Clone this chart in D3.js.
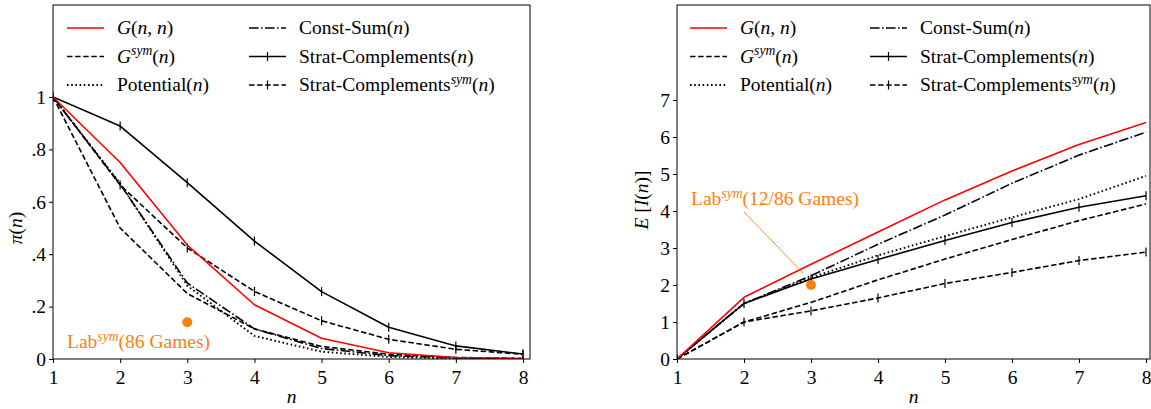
<!DOCTYPE html>
<html><head><meta charset="utf-8">
<script src="https://cdn.jsdelivr.net/npm/d3@7"></script>
<style>
body{margin:0;background:#fff;}
svg{display:block;font-family:"Liberation Serif","DejaVu Serif",serif;}
</style></head>
<body><svg id="c" width="1151" height="409"></svg>
<script>
// ---------- data ----------
const nValues = [1,2,3,4,5,6,7,8];
// left panel: pi(n)
const piG        = [1,0.75,0.435,0.207,0.079,0.024,0.006,0.001];
const piGsym     = [1,0.5,0.25,0.115,0.048,0.018,0.006,0.002];
const piPot      = [1,0.67,0.28,0.088,0.028,0.008,0.002,0.0005];
const piConst    = [1,0.667,0.29,0.115,0.04,0.013,0.004,0.001];
const piStrat    = [1,0.889,0.673,0.45,0.257,0.121,0.05,0.019];
const piStratSym = [1,0.664,0.424,0.258,0.146,0.075,0.037,0.018];
const piLab = {n:3, v:0.14};
// right panel: E[I(n)]
const eG        = [0,1.667,2.56,3.43,4.3,5.08,5.8,6.39];
const eGsym     = [0,1.0,1.53,2.14,2.7,3.23,3.74,4.19];
const ePot      = [0,1.5,2.2,2.8,3.32,3.83,4.32,4.95];
const eConst    = [0,1.5,2.25,3.1,3.89,4.75,5.51,6.13];
const eStrat    = [0,1.5,2.16,2.69,3.2,3.69,4.1,4.41];
const eStratSym = [0,1.0,1.3,1.65,2.04,2.34,2.66,2.89];
const eLab = {n:3, v:2.0};
const leftYTicks  = [0,0.2,0.4,0.6,0.8,1];
const leftYLabels = ["0",".2",".4",".6",".8","1"];
const rightYTicks = [0,1,2,3,4,5,6,7];
const xTicks = [1,2,3,4,5,6,7,8];

// series styles (name -> label segments)
const seriesDefs = [
  {key:"G",        color:"red",  dash:null,             w:1.6, tick:false, label:[{t:"G",i:1},{t:"("},{t:"n",i:1},{t:", "},{t:"n",i:1},{t:")"}]},
  {key:"Gsym",     color:"#000", dash:"5.5,2.6",        w:1.6, tick:false, label:[{t:"G",i:1},{t:"sym",i:1,s:1},{t:"("},{t:"n",i:1},{t:")"}]},
  {key:"Pot",      color:"#000", dash:"1.6,2.6",        w:1.9, tick:false, label:[{t:"Potential("},{t:"n",i:1},{t:")"}]},
  {key:"Const",    color:"#000", dash:"9.6,2.4,1.6,2.4",w:1.6, tick:false, label:[{t:"Const-Sum("},{t:"n",i:1},{t:")"}]},
  {key:"Strat",    color:"#000", dash:null,             w:1.6, tick:true,  label:[{t:"Strat-Complements("},{t:"n",i:1},{t:")"}]},
  {key:"StratSym", color:"#000", dash:"5.5,2.6",        w:1.6, tick:true,  label:[{t:"Strat-Complements"},{t:"sym",i:1,s:1},{t:"("},{t:"n",i:1},{t:")"}]}
];
const leftData  = {G:piG,Gsym:piGsym,Pot:piPot,Const:piConst,Strat:piStrat,StratSym:piStratSym};
const rightData = {G:eG,Gsym:eGsym,Pot:ePot,Const:eConst,Strat:eStrat,StratSym:eStratSym};
const orange = "#ff7f0e";
const FS = 19.5;

const svg = d3.select("#c");

function richText(sel, segs, size){
  segs.forEach((s,k)=>{
    const ts = sel.append("tspan").text(s.t);
    if(s.i) ts.attr("font-style","italic");
    if(s.s){ ts.attr("font-size", size*0.7).attr("dy", -size*0.38); }
    else if(k>0 && segs[k-1].s){ ts.attr("dy", size*0.38); }
  });
  return sel;
}

function panel(cfg){
  const x = d3.scaleLinear().domain([1,8]).range([cfg.x0,cfg.x8]);
  const y = d3.scaleLinear().domain(cfg.ydom).range(cfg.yrange);
  const g = svg.append("g");
  const top = cfg.top, bottom = y(0);
  const line = d3.line().x((d,i)=>x(nValues[i])).y(d=>y(d));
  const clipId = "clip"+cfg.id;
  g.append("clipPath").attr("id",clipId).append("rect")
    .attr("x",cfg.x0).attr("y",top).attr("width",cfg.right-cfg.x0).attr("height",bottom-top);
  const plot = g.append("g").attr("clip-path",`url(#${clipId})`);
  const order = ["Gsym","Pot","Const","Strat","StratSym","G"];
  order.forEach(k=>{
    const sd = seriesDefs.find(s=>s.key===k);
    const vals = cfg.data[k];
    plot.append("path").datum(vals).attr("d",line)
      .attr("fill","none").attr("stroke",sd.color).attr("stroke-width",sd.w)
      .attr("stroke-dasharray",sd.dash).attr("stroke-linejoin","round");
    if(sd.tick){
      plot.selectAll(null).data(vals).enter().append("line")
        .attr("x1",(d,i)=>x(nValues[i])).attr("x2",(d,i)=>x(nValues[i]))
        .attr("y1",d=>y(d)-4.5).attr("y2",d=>y(d)+4.5)
        .attr("stroke","#000").attr("stroke-width",1.2);
    }
  });
  g.append("circle").attr("cx",x(cfg.lab.n)).attr("cy",y(cfg.lab.v)).attr("r",5).attr("fill",orange);
  g.append("rect").attr("x",cfg.x0).attr("y",top).attr("width",cfg.right-cfg.x0).attr("height",bottom-top)
    .attr("fill","none").attr("stroke","#000").attr("stroke-width",1);
  const xa = g.append("g").attr("transform",`translate(0,${bottom})`)
    .call(d3.axisBottom(x).tickValues(xTicks).tickSize(4).tickSizeOuter(0).tickFormat(d3.format("d")));
  xa.select(".domain").remove();
  xa.selectAll("text").attr("font-size",FS).attr("font-family","Liberation Serif").attr("fill","#000").attr("dy","0.9em");
  const ya = g.append("g").attr("transform",`translate(${cfg.x0},0)`)
    .call(d3.axisLeft(y).tickValues(cfg.yticks).tickSize(4).tickSizeOuter(0).tickFormat((d,i)=>cfg.ylabels[i]));
  ya.select(".domain").remove();
  ya.selectAll("text").attr("font-size",FS).attr("font-family","Liberation Serif").attr("fill","#000").attr("x",-7);
  g.append("text").attr("x",(cfg.x0+cfg.right)/2).attr("y",cfg.xlabY).attr("text-anchor","middle")
    .attr("font-size",FS).attr("font-style","italic").text("n");
  const yl = g.append("text").attr("transform",`translate(${cfg.ylabX},${cfg.ylabCY}) rotate(-90)`)
    .attr("text-anchor","middle").attr("font-size",FS);
  richText(yl, cfg.ylab, FS);
  const cols = [[0,1,2],[3,4,5]];
  cols.forEach((col,ci)=>{
    col.forEach((si,ri)=>{
      const sd = seriesDefs[si];
      const ly = cfg.legY + ri*28.5;
      const lx = cfg.legX[ci];
      g.append("line").attr("x1",lx).attr("x2",lx+37).attr("y1",ly).attr("y2",ly)
        .attr("stroke",sd.color).attr("stroke-width",sd.w).attr("stroke-dasharray",sd.dash);
      if(sd.tick){
        g.append("line").attr("x1",lx+18.5).attr("x2",lx+18.5).attr("y1",ly-4.5).attr("y2",ly+4.5)
          .attr("stroke","#000").attr("stroke-width",1.2);
      }
      const t = g.append("text").attr("x",lx+50).attr("y",ly+6).attr("font-size",FS);
      richText(t, sd.label, FS);
    });
  });
  return {g,x,y};
}

const L = panel({id:"L", x0:53, x8:523, right:530, top:5, ydom:[0,1], yrange:[359,97],
  data:leftData, lab:piLab, yticks:leftYTicks, ylabels:leftYLabels,
  xlabY:403, ylabX:22, ylabCY:228,
  ylab:[{t:"π",i:1},{t:"("},{t:"n",i:1},{t:")"}],
  legY:28, legX:[67,249]});
const lt = L.g.append("text").attr("x",67).attr("y",348).attr("font-size",FS).attr("fill",orange);
richText(lt,[{t:"Lab"},{t:"sym",i:1,s:1},{t:"(86 Games)"}],FS);

const R = panel({id:"R", x0:677, x8:1146, right:1150, top:5, ydom:[0,7], yrange:[359,100],
  data:rightData, lab:eLab, yticks:rightYTicks, ylabels:rightYTicks.map(String),
  xlabY:403, ylabX:648, ylabCY:200,
  ylab:[{t:"E",i:1},{t:" ["},{t:"I",i:1},{t:"("},{t:"n",i:1},{t:")]"}],
  legY:28, legX:[690,870]});
R.g.append("line").attr("x1",744).attr("y1",212).attr("x2",R.x(eLab.n)-8).attr("y2",R.y(eLab.v)-12)
  .attr("stroke",orange).attr("stroke-width",0.9);
const rt = R.g.append("text").attr("x",691).attr("y",205).attr("font-size",FS).attr("fill",orange);
richText(rt,[{t:"Lab"},{t:"sym",i:1,s:1},{t:"(12/86 Games)"}],FS);
</script></body></html>
